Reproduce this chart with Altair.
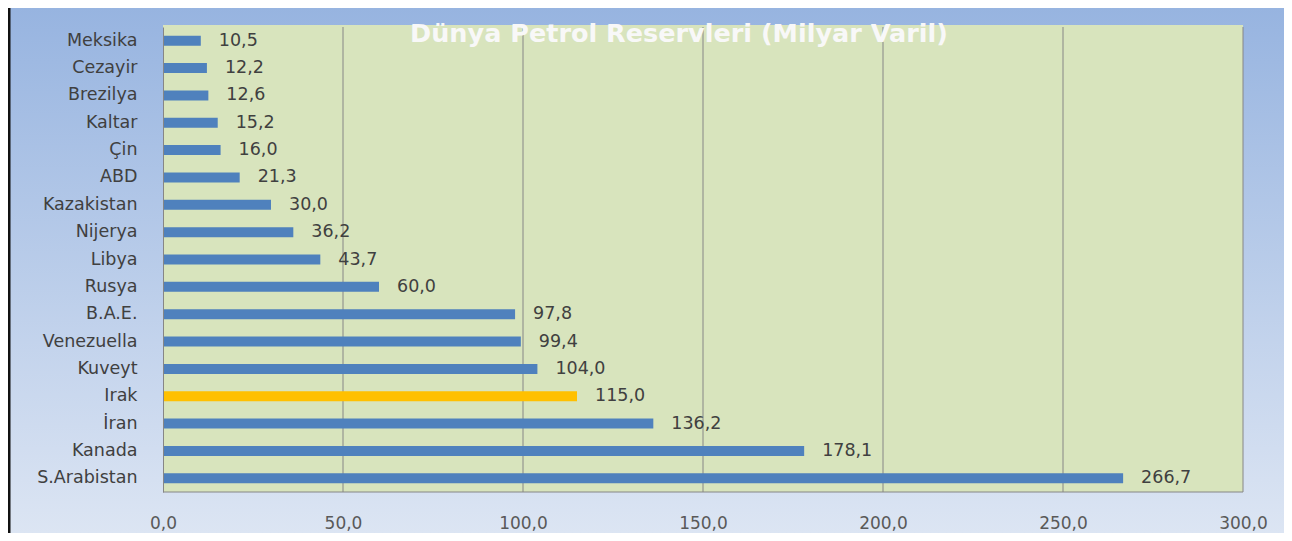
import altair as alt
import pandas as pd

# ---- data ----
countries = ["Meksika", "Cezayir", "Brezilya", "Kaltar", "Çin", "ABD", "Kazakistan",
             "Nijerya", "Libya", "Rusya", "B.A.E.", "Venezuella", "Kuveyt", "Irak",
             "İran", "Kanada", "S.Arabistan"]
values = [10.5, 12.2, 12.6, 15.2, 16.0, 21.3, 30.0, 36.2, 43.7, 60.0, 97.8, 99.4,
          104.0, 115.0, 136.2, 178.1, 266.7]
highlight = "Irak"
x_ticks = [0, 50, 100, 150, 200, 250, 300]
title_text = "Dünya Petrol Reservleri (Milyar Varil)"

df = pd.DataFrame({"country": countries, "value": values})
df["label"] = df["value"].map(lambda v: f"{v:.1f}".replace(".", ","))
df["color"] = ["#ffc000" if c == highlight else "#4f81bd" for c in countries]
grid_df = pd.DataFrame({"t": x_ticks[1:]})

W, H = 1080, 465
PAD = {"left": 155, "top": 19, "right": 41, "bottom": 41}
FONT = "DejaVu Sans"

xscale = alt.Scale(domain=[0, 300], nice=False)
yscale = alt.Scale(paddingInner=0, paddingOuter=0)

one = alt.Data(values=[{}])

bg = alt.Chart(one).mark_rect(
    clip=False,
    color=alt.LinearGradient(
        gradient="linear", x1=0, x2=0, y1=0, y2=1,
        stops=[alt.GradientStop(offset=0, color="#97b4e0"),
               alt.GradientStop(offset=1, color="#dce5f3")],
    ),
).encode(
    x=alt.value(-PAD["left"]), x2=alt.value(W + PAD["right"]),
    y=alt.value(-PAD["top"]), y2=alt.value(H + PAD["bottom"]),
)

border = alt.Chart(one).mark_rule(clip=False, color="#111111", strokeWidth=3).encode(
    x=alt.value(-PAD["left"] + 1), y=alt.value(-PAD["top"]), y2=alt.value(H + PAD["bottom"])
)

plot_bg = alt.Chart(one).mark_rect(color="#d8e4bd", clip=False).encode(
    x=alt.value(0), x2=alt.value(W), y=alt.value(-2), y2=alt.value(H)
)

grid = alt.Chart(grid_df).mark_rule(color="#868686", strokeWidth=1).encode(
    x=alt.X("t:Q", scale=xscale)
)

bottom_line = alt.Chart(one).mark_rule(color="#868686", strokeWidth=1).encode(
    x=alt.value(0), x2=alt.value(W), y=alt.value(H)
)

bars = alt.Chart(df).mark_bar(size=10).encode(
    x=alt.X("value:Q", scale=xscale,
            axis=alt.Axis(values=x_ticks, format=".1f",
                          labelExpr="replace(datum.label, '.', ',')",
                          title=None, grid=False, ticks=False, domain=False,
                          labelFlush=False, labelPadding=23, labelFont=FONT,
                          labelFontSize=17, labelColor="#595959", zindex=1)),
    y=alt.Y("country:N", sort=countries, scale=yscale,
            axis=alt.Axis(title=None, ticks=False, grid=False, domainColor="#868686",
                          labelPadding=26, labelFont=FONT, labelFontSize=17.5,
                          labelColor="#404040", zindex=1)),
    color=alt.Color("color:N", scale=None),
)

labels = alt.Chart(df).mark_text(align="left", baseline="middle", dx=18,
                                 font=FONT, fontSize=17.5, color="#404040").encode(
    x=alt.X("value:Q", scale=xscale),
    y=alt.Y("country:N", sort=countries, scale=yscale),
    text="label:N",
)

title = alt.Chart(one).mark_text(align="center", baseline="middle", font=FONT,
                                 fontSize=25.5, fontWeight="bold", color="#f8f8f8",
                                 clip=False).encode(
    x=alt.value(516), y=alt.value(7), text=alt.value(title_text)
)

chart = alt.layer(bg, border, plot_bg, grid, bottom_line, bars, labels, title).properties(
    width=W, height=H, padding=PAD,
    autosize=alt.AutoSizeParams(type="none"),
).configure_view(stroke=None)

chart.save("out.html", embed_options={"renderer": "svg", "actions": False})
